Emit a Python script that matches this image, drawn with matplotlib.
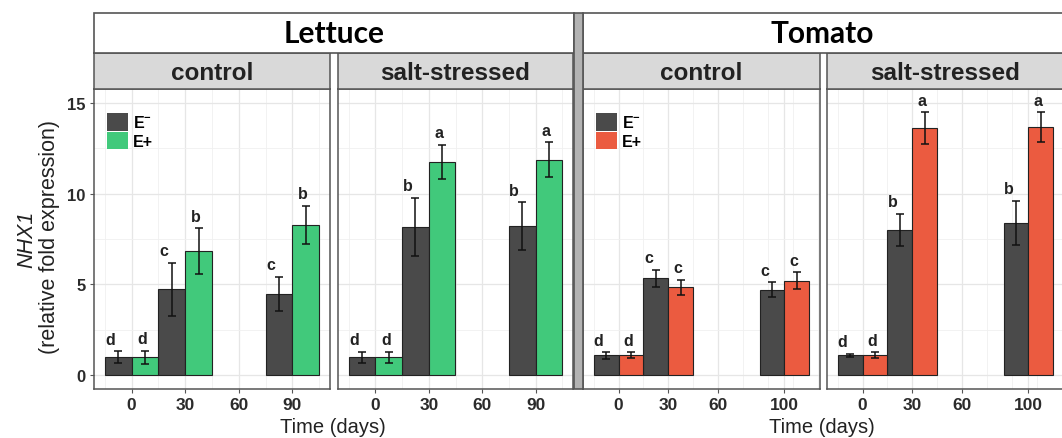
import numpy as np
import matplotlib
matplotlib.use("Agg")
import matplotlib.pyplot as plt
from matplotlib.patches import Patch, Rectangle

plt.rcParams['font.family'] = ['Liberation Sans', 'DejaVu Sans']
plt.rcParams['mathtext.fontset'] = 'custom'
plt.rcParams['mathtext.rm'] = 'Liberation Sans'
plt.rcParams['mathtext.bf'] = 'Liberation Sans:bold'

# ---- data ----
time_lettuce = [0, 30, 90]
time_tomato = [0, 30, 100]

lettuce_ctrl_em = [1.0, 4.74, 4.49]
lettuce_ctrl_em_err = [0.32, 1.45, 0.93]
lettuce_ctrl_ep = [1.0, 6.84, 8.27]
lettuce_ctrl_ep_err = [0.35, 1.25, 1.06]

lettuce_salt_em = [1.0, 8.18, 8.22]
lettuce_salt_em_err = [0.30, 1.60, 1.30]
lettuce_salt_ep = [1.0, 11.73, 11.86]
lettuce_salt_ep_err = [0.30, 0.95, 0.95]

tomato_ctrl_em = [1.1, 5.33, 4.71]
tomato_ctrl_em_err = [0.18, 0.48, 0.41]
tomato_ctrl_ep = [1.1, 4.84, 5.20]
tomato_ctrl_ep_err = [0.17, 0.42, 0.47]

tomato_salt_em = [1.1, 8.02, 8.37]
tomato_salt_em_err = [0.10, 0.88, 1.22]
tomato_salt_ep = [1.1, 13.59, 13.66]
tomato_salt_ep_err = [0.17, 0.87, 0.80]

lettuce_ctrl_em_lab = ['d', 'c', 'c']
lettuce_ctrl_ep_lab = ['d', 'b', 'b']
lettuce_salt_em_lab = ['d', 'b', 'b']
lettuce_salt_ep_lab = ['d', 'a', 'a']
tomato_ctrl_em_lab = ['d', 'c', 'c']
tomato_ctrl_ep_lab = ['d', 'c', 'c']
tomato_salt_em_lab = ['d', 'b', 'b']
tomato_salt_ep_lab = ['d', 'a', 'a']

# ---- style ----
W, H = 1062, 439
dark = '#4a4a4a'
green = '#41c97b'
red = '#eb5b40'
edge = '#555555'
txt = '#2b2b2b'

fig = plt.figure(figsize=(W / 100, H / 100), dpi=100)
fig.patch.set_facecolor('white')


def rect(x0, y0, x1, y1):
    return [x0 / W, 1 - y1 / H, (x1 - x0) / W, (y1 - y0) / H]


def box(x0, y0, x1, y1, fc, lw=1.2):
    fig.patches.append(Rectangle((x0 / W, 1 - y1 / H), (x1 - x0) / W, (y1 - y0) / H,
                                 transform=fig.transFigure, facecolor=fc,
                                 edgecolor=edge, linewidth=lw, zorder=0))


def panel(xpx, title, t, em, em_err, ep, ep_err, em_lab, ep_lab, col, xlim, first, legend):
    ax = fig.add_axes(rect(xpx[0], 90, xpx[1], 390))
    t = np.array(t)
    ax.set_xlim(*xlim)
    ax.set_ylim(-0.75, 15.75)
    ax.set_xticks([0, 30, 60, t[-1]])
    ax.set_xticks(np.arange(-15, xlim[1], 15), minor=True)
    ax.set_yticks([0, 5, 10, 15])
    ax.set_yticks([2.5, 7.5, 12.5], minor=True)
    ax.grid(which='major', color='#e6e6e6', lw=0.9)
    ax.grid(which='minor', color='#f0f0f0', lw=0.6)
    ax.set_axisbelow(True)
    for s in ax.spines.values():
        s.set_color(edge)
        s.set_linewidth(1.1)
    ax.tick_params(axis='x', which='minor', length=0)
    ax.tick_params(axis='y', which='minor', length=0)
    ax.tick_params(axis='both', which='major', length=3, color=edge, colors=txt,
                   labelsize=12.5, pad=3)
    for lbl in ax.get_xticklabels():
        lbl.set_fontweight('bold')
    if first:
        ax.tick_params(axis='y', labelsize=12)
        for lbl in ax.get_yticklabels():
            lbl.set_fontweight('bold')
    else:
        ax.tick_params(axis='y', length=0, labelleft=False)

    ekw = dict(elinewidth=1.1, capthick=1.1, ecolor='#111111')
    ax.bar(t - 7.5, em, width=15, color=dark, edgecolor='#222222', linewidth=0.8,
           yerr=em_err, capsize=3, error_kw=ekw, zorder=2)
    ax.bar(t + 7.5, ep, width=15, color=col, edgecolor='#222222', linewidth=0.8,
           yerr=ep_err, capsize=3, error_kw=ekw, zorder=2)
    for i in range(len(t)):
        ax.text(t[i] - 12, em[i] + em_err[i] + 0.25, em_lab[i], ha='center', va='bottom',
                fontsize=11.5, fontweight='bold', color='#222222')
        ax.text(t[i] + 6, ep[i] + ep_err[i] + 0.25, ep_lab[i], ha='center', va='bottom',
                fontsize=11.5, fontweight='bold', color='#222222')

    if legend:
        handles = [Patch(facecolor=dark, edgecolor='none'), Patch(facecolor=col, edgecolor='none')]
        ax.legend(handles, [r'$\mathbf{E^{-}}$', 'E+'], loc='upper left',
                  bbox_to_anchor=(0.03, 0.94), frameon=False,
                  prop=dict(size=11.5, weight='bold'),
                  handlelength=1.3, handleheight=1.3, handletextpad=0.3,
                  labelspacing=0.05, borderaxespad=0)

    # strip
    sx = fig.add_axes(rect(xpx[0], 54, xpx[1], 90))
    sx.set_facecolor('#d9d9d9')
    sx.set_xticks([])
    sx.set_yticks([])
    for s in sx.spines.values():
        s.set_color(edge)
        s.set_linewidth(1.1)
    sx.text(0.5, 0.45, title, transform=sx.transAxes, ha='center', va='center',
            fontsize=17.5, fontweight='bold', color='#222222')
    return ax


# header boxes and separator
box(94, 13.5, 574, 53.5, 'white')
box(583, 13.5, 1066, 53.5, 'white')
box(574, 13.5, 583, 390, '#b3b3b3')
fig.text((94 + 574) / 2 / W, 1 - 34 / H, 'Lettuce', ha='center', va='center',
         fontsize=21.5, fontweight='bold', family='Lato', color='black')
fig.text((583 + 1062) / 2 / W, 1 - 34 / H, 'Tomato', ha='center', va='center',
         fontsize=21.5, fontweight='bold', family='Lato', color='black')

panel((94, 330), 'control', time_lettuce, lettuce_ctrl_em, lettuce_ctrl_em_err,
      lettuce_ctrl_ep, lettuce_ctrl_ep_err, lettuce_ctrl_em_lab, lettuce_ctrl_ep_lab,
      green, (-21, 111), True, True)
panel((338, 573), 'salt-stressed', time_lettuce, lettuce_salt_em, lettuce_salt_em_err,
      lettuce_salt_ep, lettuce_salt_ep_err, lettuce_salt_em_lab, lettuce_salt_ep_lab,
      green, (-21, 111), False, False)
panel((583, 820), 'control', time_tomato, tomato_ctrl_em, tomato_ctrl_em_err,
      tomato_ctrl_ep, tomato_ctrl_ep_err, tomato_ctrl_em_lab, tomato_ctrl_ep_lab,
      red, (-21.5, 121.5), False, True)
panel((827, 1064), 'salt-stressed', time_tomato, tomato_salt_em, tomato_salt_em_err,
      tomato_salt_ep, tomato_salt_ep_err, tomato_salt_em_lab, tomato_salt_ep_lab,
      red, (-21.5, 121.5), False, False)

# axis titles
fig.text(27 / W, 1 - 239 / H, 'NHX1', rotation=90, ha='center', va='center',
         fontsize=15.5, style='italic', color='#222222')
fig.text(50 / W, 1 - 237 / H, '(relative fold expression)', rotation=90, ha='center',
         va='center', fontsize=15.5, color='#222222')
fig.text(333 / W, 1 - 428 / H, 'Time (days)', ha='center', va='center',
         fontsize=14.5, color='#222222')
fig.text(822 / W, 1 - 428 / H, 'Time (days)', ha='center', va='center',
         fontsize=14.5, color='#222222')

fig.savefig('out.png', dpi=100)
